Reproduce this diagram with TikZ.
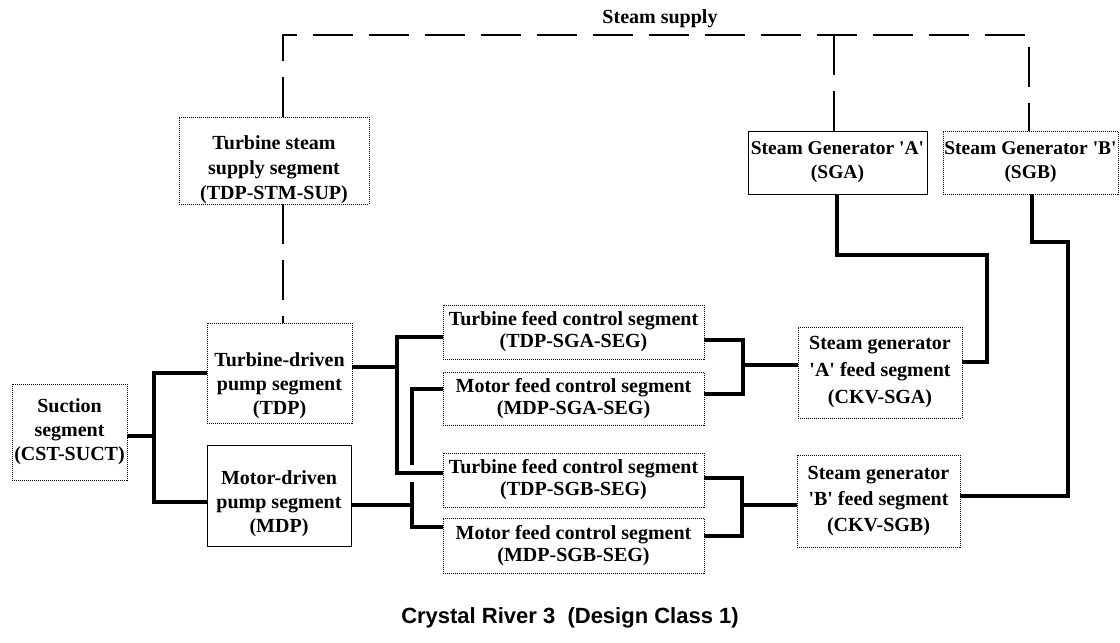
\documentclass[tikz,border=0pt]{standalone}
\usepackage{fontspec}
\setmainfont{Liberation Serif}
\newfontfamily\capfont{Liberation Sans}
\begin{document}
\begin{tikzpicture}[x=1pt,y=-1pt,
  seg/.style={draw, line width=1pt, densely dotted, inner sep=0pt, outer sep=0pt, align=center,
    font=\bfseries\fontsize{20}{22}\selectfont},
  segsolid/.style={seg, solid},
  txt/.style={align=center, inner sep=0pt},
  pipe/.style={line width=4.5pt, line join=miter},
  steam/.style={line width=1.5pt, dash pattern=on 40pt off 16pt},
  lbl/.style={font=\bfseries\fontsize{20}{22}\selectfont}]
\useasboundingbox (0,0) rectangle (1120,643);

% top row
\node[seg, minimum width=190pt, minimum height=87pt] (tss) at (274,160.5) {};
\node[txt, font=\bfseries\fontsize{20}{25}\selectfont] (tsst) at ([yshift=-9pt]tss.center) {Turbine steam\\supply segment\\(TDP-STM-SUP)};
\node[segsolid, minimum width=179pt, minimum height=63pt, font=\bfseries\fontsize{19.5}{24}\selectfont] (sga) at (837.5,162.5) {Steam Generator \textquotesingle A\textquotesingle\\(SGA)};
\node[seg, minimum width=175pt, minimum height=63pt, font=\bfseries\fontsize{19.5}{24}\selectfont] (sgb) at (1030.5,162.5) {Steam Generator \textquotesingle B\textquotesingle\\(SGB)};

% left column
\node[seg, minimum width=115pt, minimum height=96pt, font=\bfseries\fontsize{20}{24}\selectfont] (suct) at (69.5,432) {Suction\\segment\\(CST-SUCT)};
\node[seg, minimum width=145pt, minimum height=100pt] (tdp) at (279.5,373) {};
\node[txt, font=\bfseries\fontsize{20}{24}\selectfont] (tdpt) at ([yshift=-13pt]tdp.center) {Turbine-driven\\pump segment\\(TDP)};
\node[segsolid, minimum width=144pt, minimum height=101pt] (mdp) at (279,495.5) {};
\node[txt, font=\bfseries\fontsize{20}{24}\selectfont] (mdpt) at ([yshift=-8pt]mdp.center) {Motor-driven\\pump segment\\(MDP)};

% feed control segments
\node[seg, minimum width=261pt, minimum height=54pt] (tfca) at (573.5,332) {Turbine feed control segment\\(TDP-SGA-SEG)};
\node[seg, minimum width=261pt, minimum height=53pt] (mfca) at (573.5,398.5) {Motor feed control segment\\(MDP-SGA-SEG)};
\node[seg, minimum width=261pt, minimum height=54pt] (tfcb) at (573.5,480) {Turbine feed control segment\\(TDP-SGB-SEG)};
\node[seg, minimum width=261pt, minimum height=55pt] (mfcb) at (573.5,545.5) {Motor feed control segment\\(MDP-SGB-SEG)};

% steam generator feed segments
\node[seg, minimum width=164pt, minimum height=91pt, font=\bfseries\fontsize{20}{27}\selectfont] (ckva) at (880,372.5) {Steam generator\\\textquotesingle A\textquotesingle\ feed segment\\(CKV-SGA)};
\node[seg, minimum width=163pt, minimum height=92pt, font=\bfseries\fontsize{20}{26}\selectfont] (ckvb) at (878.5,501) {Steam generator\\\textquotesingle B\textquotesingle\ feed segment\\(CKV-SGB)};

% labels
\node[lbl] (supply) at (660,19) {Steam supply};
\node[font=\capfont\bfseries\fontsize{22}{26}\selectfont] (caption) at (570,618) {Crystal River 3\ \ (Design Class 1)};

% steam supply (dashed)
\coordinate (stl) at (283,35);
\coordinate (str) at (1029,35);
\coordinate (sta) at (834,35);
\draw[steam] (tss.north -| stl) -- (stl) -- (str) -- (sgb.north -| str);
\draw[steam] (sta) -- (sga.north -| sta);
\draw[steam] (tss.south -| stl) -- (tdp.north -| stl);

% suction to pumps
\coordinate (sx) at (154,0);
\coordinate (mdpin) at ([yshift=-6.5pt]mdp.west);
\coordinate (suctout) at ([yshift=-4pt]suct.east);
\draw[pipe] (tdp.west) -| (sx |- mdpin) -- (mdpin);
\draw[pipe] (suctout) -- (suctout -| sx);

% TDP to turbine feed control segments
\coordinate (tx) at (397,0);
\coordinate (tdpout) at ([yshift=6pt]tdp.east);
\coordinate (tfcain) at ([yshift=-5pt]tfca.west);
\coordinate (tfcbin) at ([yshift=7pt]tfcb.west);
\draw[pipe] (tfcain) -| (tx |- tfcbin) -- (tfcbin);
\draw[pipe] (tdpout) -- (tdpout -| tx);

% MDP to motor feed control segments (broken at crossing)
\coordinate (gapTop) at (412,465);
\coordinate (gapBot) at (412,482);
\coordinate (mdpout) at ([yshift=-9.5pt]mdp.east);
\coordinate (mfcain) at ([yshift=9.5pt]mfca.west);
\coordinate (mfcbin) at ([yshift=18.5pt]mfcb.west);
\draw[pipe] (mfcain) -| (gapTop);
\draw[pipe] (gapBot) |- (mfcbin);
\draw[pipe] (mdpout) -- (mdpout -| gapBot);

% feed control A to CKV-SGA
\coordinate (ax) at (743,0);
\coordinate (tfcaout) at ([yshift=-8pt]tfca.east);
\coordinate (mfcaout) at ([yshift=4.5pt]mfca.east);
\coordinate (ckvain) at ([yshift=7.5pt]ckva.west);
\draw[pipe] (tfcaout) -| (ax |- mfcaout) -- (mfcaout);
\draw[pipe] (ckvain) -- (ckvain -| ax);

% feed control B to CKV-SGB
\coordinate (bx) at (742,0);
\coordinate (tfcbout) at ([yshift=2pt]tfcb.east);
\coordinate (mfcbout) at ([yshift=9.5pt]mfcb.east);
\coordinate (ckvbin) at ([yshift=-4pt]ckvb.west);
\draw[pipe] (tfcbout) -| (bx |- mfcbout) -- (mfcbout);
\draw[pipe] (ckvbin) -- (ckvbin -| bx);

% steam generators to feed segments
\coordinate (ga1) at (837,255);
\coordinate (ga2) at (987,255);
\coordinate (ckvaout) at ([yshift=10.5pt]ckva.east);
\draw[pipe] (sga.south -| ga1) -- (ga1) -- (ga2) |- (ckvaout);
\coordinate (gb1) at (1032,242);
\coordinate (gb2) at (1068,242);
\coordinate (ckvbout) at ([yshift=5pt]ckvb.east);
\draw[pipe] (sgb.south -| gb1) -- (gb1) -- (gb2) |- (ckvbout);
\end{tikzpicture}
\end{document}
